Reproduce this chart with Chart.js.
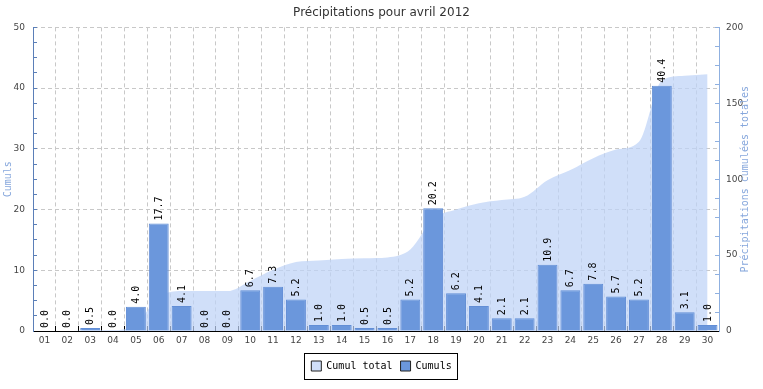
<!DOCTYPE html>
<html>
<head>
<meta charset="utf-8">
<title>Précipitations pour avril 2012</title>
<script src="https://cdn.jsdelivr.net/npm/chart.js@4.4.0/dist/chart.umd.min.js"></script>
<style>
  html, body { margin: 0; padding: 0; background: #fff; }
  #wrap { width: 763px; height: 389px; }
</style>
</head>
<body>
<div id="wrap"><canvas id="rainChart" width="763" height="389"></canvas></div>
<script>
// days of April 2012
const days = ['01','02','03','04','05','06','07','08','09','10','11','12','13','14','15',
              '16','17','18','19','20','21','22','23','24','25','26','27','28','29','30'];
// daily rain (mm)
const dailyRain = [0.0, 0.0, 0.5, 0.0, 4.0, 17.7, 4.1, 0.0, 0.0, 6.7, 7.3, 5.2, 1.0, 1.0, 0.5,
                   0.5, 5.2, 20.2, 6.2, 4.1, 2.1, 2.1, 10.9, 6.7, 7.8, 5.7, 5.2, 40.4, 3.1, 1.0];
// running total (mm)
const totalRain = [0.0, 0.0, 0.5, 0.5, 4.5, 22.2, 26.3, 26.3, 26.3, 33.0, 40.3, 45.5, 46.5, 47.5, 48.0,
                   48.5, 53.7, 73.9, 80.1, 84.2, 86.3, 88.4, 99.3, 106.0, 113.8, 119.5, 124.7, 165.1, 168.2, 169.2];
const leftTicks = [0, 10, 20, 30, 40, 50];
const rightTicks = [0, 50, 100, 150, 200];
const rightTitle = 'Précipitations cumulées totales';

Chart.defaults.font.family = 'DejaVu Sans';
Chart.defaults.color = '#444';

const mono = 'DejaVu Sans Mono';

// value labels written vertically above each bar
const barLabels = {
  id: 'barLabels',
  afterDatasetsDraw(chart) {
    const meta = chart.getDatasetMeta(0);
    const ctx = chart.ctx;
    ctx.save();
    ctx.font = '10px ' + mono;
    ctx.fillStyle = '#000';
    ctx.textAlign = 'left';
    ctx.textBaseline = 'middle';
    meta.data.forEach((bar, i) => {
      ctx.save();
      ctx.translate(bar.x + 0.5, bar.y - 3);
      ctx.rotate(-Math.PI / 2);
      ctx.fillText(dailyRain[i].toFixed(1), 0, 0);
      ctx.restore();
    });
    ctx.restore();
  }
};

// right axis title, read bottom to top like the left one
const rightAxisTitle = {
  id: 'rightAxisTitle',
  afterDraw(chart) {
    const s = chart.scales.y1;
    const ctx = chart.ctx;
    ctx.save();
    ctx.font = '10px ' + mono;
    ctx.fillStyle = '#86a7dc';
    ctx.textAlign = 'center';
    ctx.textBaseline = 'middle';
    ctx.translate(s.right - 18, (s.top + s.bottom) / 2);
    ctx.rotate(-Math.PI / 2);
    ctx.fillText(rightTitle, 0, 0);
    ctx.restore();
  }
};

// frame round the legend
const legendFrame = {
  id: 'legendFrame',
  afterDraw(chart) {
    const boxes = chart.legend.legendHitBoxes;
    if (!boxes || !boxes.length) return;
    let l = Infinity, r = -Infinity, t = Infinity, b = -Infinity;
    boxes.forEach(h => {
      l = Math.min(l, h.left); r = Math.max(r, h.left + h.width);
      t = Math.min(t, h.top); b = Math.max(b, h.top + h.height);
    });
    const ctx = chart.ctx;
    ctx.save();
    ctx.strokeStyle = '#000';
    ctx.lineWidth = 1;
    ctx.strokeRect(Math.round(l - 7) + 0.5, Math.round(t - 8) + 0.5, Math.round(r - l + 13), Math.round(b - t + 16));
    ctx.restore();
  }
};

const ctx = document.getElementById('rainChart').getContext('2d');
new Chart(ctx, {
  data: {
    labels: days,
    datasets: [
      {
        type: 'bar',
        label: 'Cumuls',
        data: dailyRain,
        yAxisID: 'y',
        backgroundColor: '#6b97dc',
        borderColor: '#628ed6',
        borderWidth: 1,
        barPercentage: 0.87,
        categoryPercentage: 1,
        order: 0
      },
      {
        type: 'line',
        label: 'Cumul total',
        data: totalRain,
        yAxisID: 'y1',
        fill: 'origin',
        backgroundColor: 'rgba(190,210,246,0.72)',
        borderWidth: 0,
        pointRadius: 0,
        cubicInterpolationMode: 'monotone',
        order: 1
      }
    ]
  },
  options: {
    responsive: false,
    animation: false,
    layout: { padding: { left: 0, right: 0, top: 0, bottom: 8 } },
    plugins: {
      title: {
        display: true,
        text: 'Précipitations pour avril 2012',
        color: '#333',
        font: { size: 12, weight: 'normal' },
        padding: { top: 6, bottom: 7 }
      },
      legend: {
        position: 'bottom',
        labels: {
          font: { family: mono, size: 10 },
          color: '#000',
          boxWidth: 10,
          boxHeight: 10,
          padding: 8,
          sort: (a, b) => b.datasetIndex - a.datasetIndex,
          generateLabels(chart) {
            const items = Chart.defaults.plugins.legend.labels.generateLabels(chart);
            items.forEach(it => { it.strokeStyle = '#222'; it.lineWidth = 1; });
            return items;
          }
        }
      },
      tooltip: { enabled: false }
    },
    scales: {
      x: {
        offset: true,
        grid: {
          offset: true,
          color: '#c8c8c8',
          tickColor: '#000',
          tickLength: -5
        },
        border: { color: '#000', dash: [4, 3] },
        ticks: { font: { size: 9 }, color: '#444', padding: 9, maxRotation: 0, autoSkip: false },
        afterFit(scale) { scale.height = 22; }
      },
      y: {
        position: 'left',
        min: 0,
        max: 50,
        grid: {
          color: c => leftTicks.includes(c.tick.value) ? '#c8c8c8' : 'transparent',
          tickColor: '#5b7fb8',
          tickLength: -4
        },
        border: { color: '#5b7fb8', dash: [4, 3] },
        ticks: {
          stepSize: 2.5,
          font: { size: 9 },
          color: '#444',
          padding: 12,
          callback: v => leftTicks.includes(v) ? String(v) : ''
        },
        title: {
          display: true,
          text: 'Cumuls',
          color: '#86a7dc',
          font: { family: mono, size: 10 },
          padding: { top: 2, bottom: 0 }
        },
        afterFit(scale) { scale.width = 33; }
      },
      y1: {
        position: 'right',
        min: 0,
        max: 200,
        grid: {
          drawOnChartArea: false,
          tickColor: '#8fb0e0',
          tickLength: -4
        },
        border: { color: '#8fb0e0' },
        ticks: {
          stepSize: 12.5,
          font: { size: 9 },
          color: '#444',
          padding: 11,
          callback: v => rightTicks.includes(v) ? String(v) : ''
        },
        afterFit(scale) { scale.width = 44; }
      }
    }
  },
  plugins: [barLabels, rightAxisTitle, legendFrame]
});
</script>
</body>
</html>
